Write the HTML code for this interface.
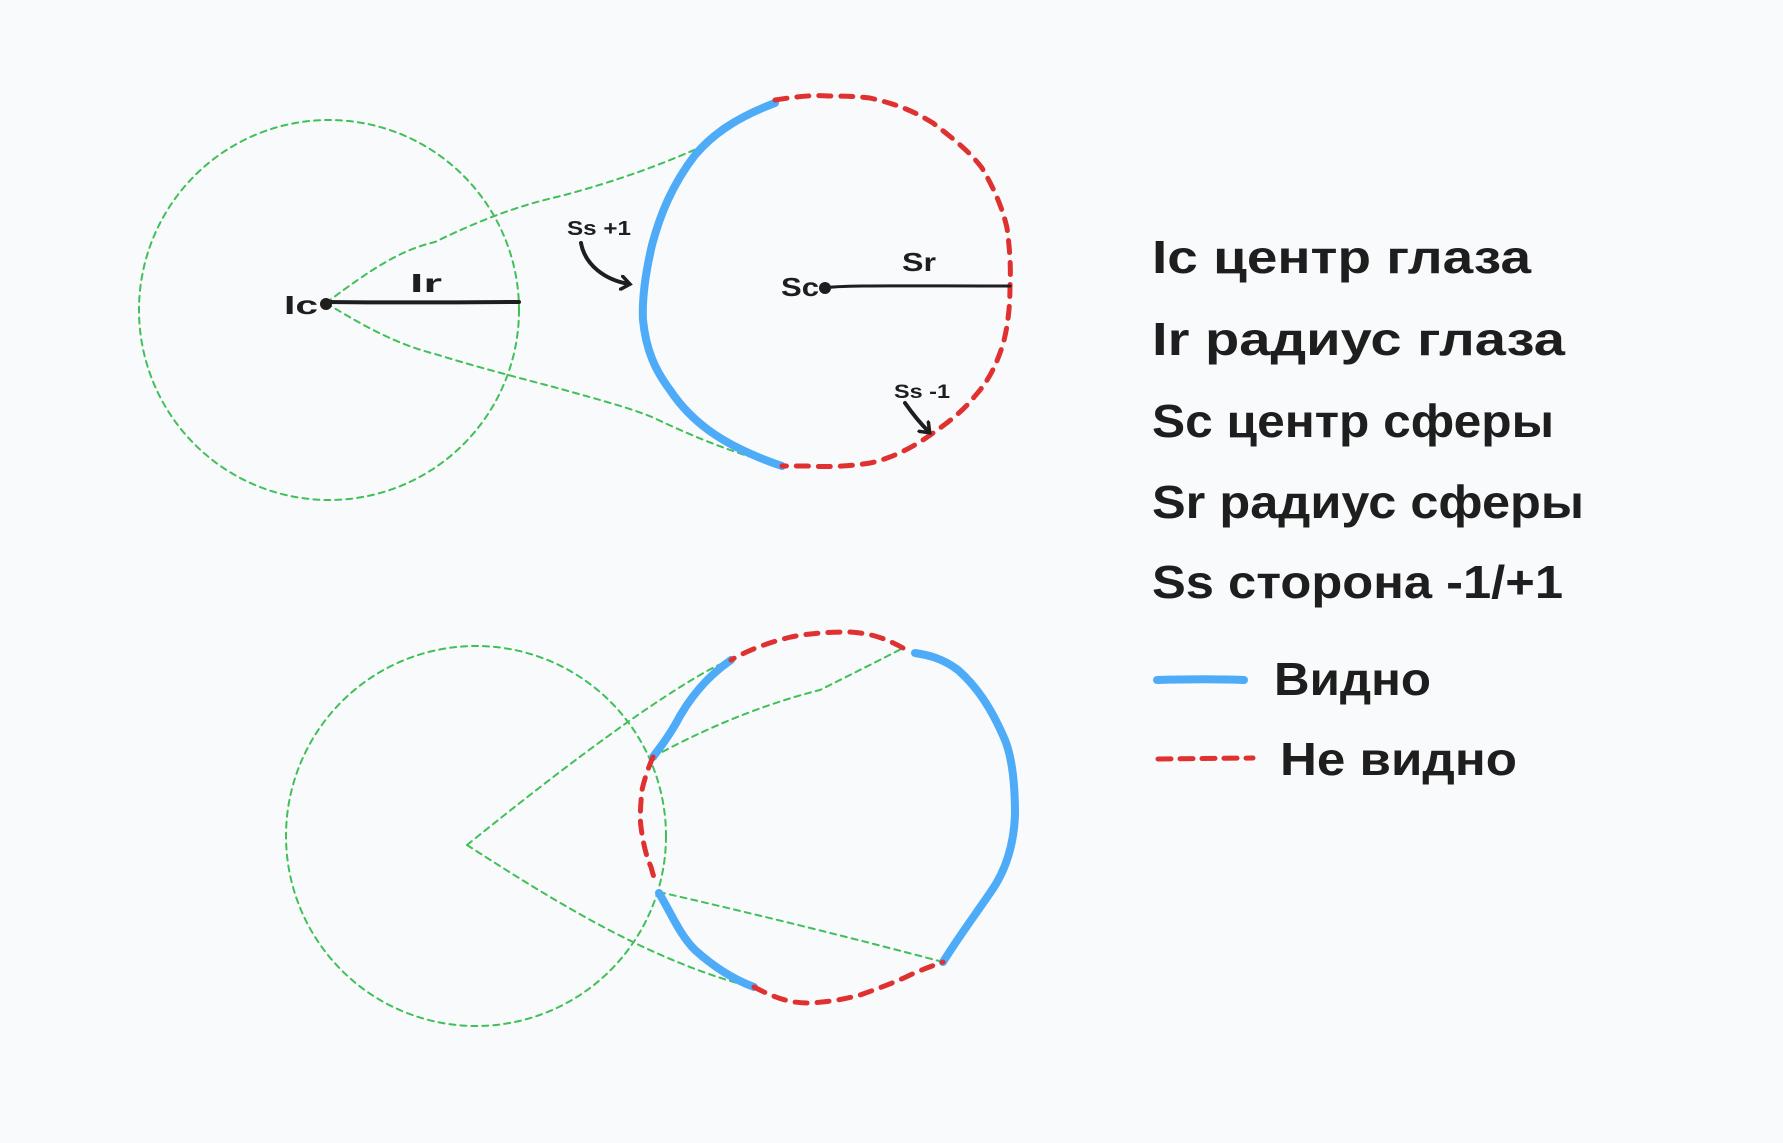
<!DOCTYPE html>
<html><head><meta charset="utf-8"><style>
html,body{margin:0;padding:0;background:#f8fafc;}
svg{display:block;}
text{font-family:"Liberation Sans","DejaVu Sans",sans-serif;font-weight:bold;fill:#1e1e1e;}
</style></head><body>
<svg width="1783" height="1143" viewBox="0 0 1783 1143" xmlns="http://www.w3.org/2000/svg">
<rect width="1783" height="1143" fill="#f8fafc"/>
<defs>
<marker id="ah" markerWidth="16" markerHeight="16" refX="9" refY="8" orient="auto" markerUnits="userSpaceOnUse">
<path d="M1,1 L10,8 L1,15" fill="none" stroke="#1e1e1e" stroke-width="3.5" stroke-linecap="round"/>
</marker>
</defs>
<g fill="none" stroke-linecap="round" stroke-linejoin="round">
<!-- top eye circle -->
<circle cx="329" cy="310" r="190" stroke="#40c057" stroke-width="2" stroke-dasharray="6 5"/>
<path d="M326,303 C370,270 400,250 435,242 C480,220 520,205 561,196 C620,180 660,165 701,147 C730,130 750,112 775,103" stroke="#40c057" stroke-width="2" stroke-dasharray="6 5"/>
<path d="M326,303 C370,330 400,345 435,354 C480,368 520,378 561,389 C600,400 630,408 652,417 C700,440 740,455 782,466" stroke="#40c057" stroke-width="2" stroke-dasharray="6 5"/>
<!-- top sphere -->
<path d="M775,103 C735,118 712,135 695,155 C672,185 660,215 652,245 C645,275 642,300 643,320 C646,350 655,370 670,390 C690,420 720,445 782,466" stroke="#4dabf7" stroke-width="8"/>
<path d="M775,100 C800,96 815,95 828,96 C850,96 862,97 870,98 C900,105 915,112 933,123 C955,140 970,152 982,168 C995,190 1003,210 1007,228 C1010,250 1011,270 1010,286 C1010,310 1007,330 1003,344 C995,370 985,385 975,396 C960,415 940,428 926,438 C905,452 885,460 870,463 C845,467 825,467 807,466 C795,466 788,466 782,466" stroke="#e03131" stroke-width="5" stroke-dasharray="12 10"/>
<!-- radius lines -->
<path d="M326,302 C420,303 470,302 519,302" stroke="#1e1e1e" stroke-width="4"/>
<circle cx="326" cy="304" r="6" fill="#1e1e1e" stroke="none"/>
<path d="M824,288 C840,285 900,286 1010,286" stroke="#1e1e1e" stroke-width="3"/>
<circle cx="825" cy="288" r="6" fill="#1e1e1e" stroke="none"/>
<!-- arrows -->
<path d="M581,243 C585,265 605,280 629,284" stroke="#1e1e1e" stroke-width="4" marker-end="url(#ah)"/>
<path d="M905,403 C912,413 920,423 929,432" stroke="#1e1e1e" stroke-width="4" marker-end="url(#ah)"/>
<!-- bottom eye -->
<circle cx="476" cy="836" r="190" stroke="#40c057" stroke-width="2" stroke-dasharray="6 5"/>
<path d="M467,845 C560,770 640,710 700,675 C712,668 722,663 731,660" stroke="#40c057" stroke-width="2" stroke-dasharray="6 5"/>
<path d="M653,757 C720,720 780,700 820,690 C850,675 880,660 903,648" stroke="#40c057" stroke-width="2" stroke-dasharray="6 5"/>
<path d="M467,845 C560,905 650,960 751,987" stroke="#40c057" stroke-width="2" stroke-dasharray="6 5"/>
<path d="M659,892 C760,915 860,940 943,962" stroke="#40c057" stroke-width="2" stroke-dasharray="6 5"/>
<!-- bottom sphere blue -->
<path d="M731,660 C705,678 688,700 675,725 C665,742 658,750 653,757" stroke="#4dabf7" stroke-width="8"/>
<path d="M659,893 C672,915 680,935 695,950 C715,968 735,980 754,987" stroke="#4dabf7" stroke-width="8"/>
<path d="M943,962 C960,935 975,915 990,893 C1008,868 1014,840 1015,815 C1015,790 1013,760 1005,740 C990,705 975,685 958,670 C942,658 928,655 915,653" stroke="#4dabf7" stroke-width="8"/>
<!-- bottom sphere red -->
<path d="M653,757 C645,775 642,790 642,790 C640,810 640,820 641,827 C644,850 648,860 651,867 C653,875 655,880 656,883" stroke="#e03131" stroke-width="5" stroke-dasharray="12 10"/>
<path d="M754,987 C775,998 790,1003 808,1003 C830,1002 845,999 860,995 C880,988 895,982 906,977 C920,970 935,965 943,962" stroke="#e03131" stroke-width="5" stroke-dasharray="12 10"/>
<path d="M903,648 C885,638 870,633 849,632 C825,632 805,634 791,637 C770,642 748,650 731,660" stroke="#e03131" stroke-width="5" stroke-dasharray="12 10"/>
<!-- legend lines -->
<path d="M1157,680 C1190,679 1220,679 1244,680" stroke="#4dabf7" stroke-width="8"/>
<path d="M1158,759 L1253,758" stroke="#e03131" stroke-width="5" stroke-dasharray="13 9"/>
</g>
<!-- diagram labels -->
<text x="284" y="314" font-size="26" textLength="34" lengthAdjust="spacingAndGlyphs">Ic</text>
<text x="410" y="292" font-size="26" textLength="32" lengthAdjust="spacingAndGlyphs">Ir</text>
<text x="781" y="296" font-size="26" textLength="38" lengthAdjust="spacingAndGlyphs">Sc</text>
<text x="902" y="271" font-size="26" textLength="34" lengthAdjust="spacingAndGlyphs">Sr</text>
<text x="567" y="235" font-size="20" textLength="64" lengthAdjust="spacingAndGlyphs">Ss +1</text>
<text x="894" y="398" font-size="19" textLength="56" lengthAdjust="spacingAndGlyphs">Ss -1</text>
<!-- legend -->
<text x="1152" y="273" font-size="46" textLength="379" lengthAdjust="spacingAndGlyphs">Ic центр глаза</text>
<text x="1152" y="355" font-size="46" textLength="413" lengthAdjust="spacingAndGlyphs">Ir радиус глаза</text>
<text x="1152" y="437" font-size="46" textLength="402" lengthAdjust="spacingAndGlyphs">Sc центр сферы</text>
<text x="1152" y="518" font-size="46" textLength="432" lengthAdjust="spacingAndGlyphs">Sr радиус сферы</text>
<text x="1152" y="598" font-size="46" textLength="411" lengthAdjust="spacingAndGlyphs">Ss сторона -1/+1</text>
<text x="1274" y="695" font-size="46" textLength="157" lengthAdjust="spacingAndGlyphs">Видно</text>
<text x="1280" y="775" font-size="46" textLength="237" lengthAdjust="spacingAndGlyphs">Не видно</text>
</svg>
</body></html>
